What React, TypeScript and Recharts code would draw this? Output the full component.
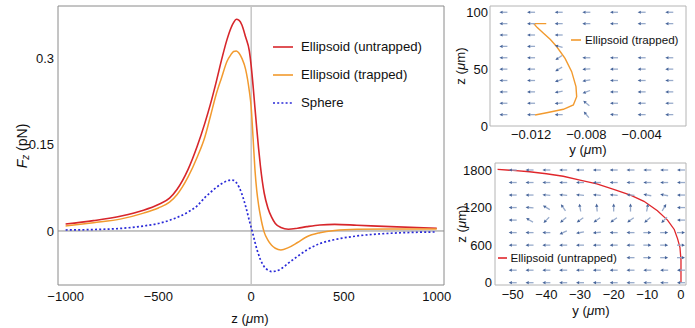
import React from 'react'
import {
  LineChart,
  ComposedChart,
  Line,
  Scatter,
  XAxis,
  YAxis,
  ReferenceLine,
  ReferenceArea,
  Legend,
} from 'recharts'

// main panel: F_z against z
const zPositions = [-1000, -850, -700, -580, -500, -440, -400, -340, -290, -250, -220, -190, -160, -130, -110, -95, -80, -65, -50, -30, -10, 0, 10, 20, 30, 40, 50, 70, 90, 110, 130, 160, 200, 250, 300, 370, 450, 570, 750, 1000]
const untrapped = [0.012, 0.018, 0.026, 0.036, 0.046, 0.057, 0.072, 0.107, 0.148, 0.187, 0.22, 0.257, 0.297, 0.333, 0.352, 0.362, 0.368, 0.366, 0.358, 0.337, 0.313, 0.287, 0.253, 0.215, 0.178, 0.143, 0.112, 0.066, 0.04, 0.024, 0.013, 0.006, 0.003, 0.0048, 0.0075, 0.0105, 0.0115, 0.01, 0.0075, 0.0047]
const trapped = [0.0087, 0.0144, 0.021, 0.031, 0.04, 0.05, 0.063, 0.094, 0.129, 0.163, 0.199, 0.236, 0.266, 0.295, 0.306, 0.312, 0.313, 0.309, 0.3, 0.281, 0.243, 0.215, 0.163, 0.108, 0.07, 0.045, 0.026, -0.002, -0.016, -0.025, -0.03, -0.033, -0.029, -0.02, -0.01, -0.003, 0.001, 0.003, 0.0035, 0.0035]
const sphere = [0.0017, 0.0025, 0.0045, 0.0087, 0.013, 0.0185, 0.0235, 0.033, 0.044, 0.058, 0.067, 0.075, 0.082, 0.087, 0.0885, 0.088, 0.084, 0.076, 0.064, 0.043, 0.018, 0.006, -0.006, -0.019, -0.031, -0.041, -0.05, -0.062, -0.068, -0.0705, -0.07, -0.066, -0.056, -0.044, -0.033, -0.022, -0.015, -0.0087, -0.004, -0.0017]
const mainXTicks = [-1000, -500, 0, 500, 1000]
const mainYTicks = [0, 0.15, 0.3]
const legendOrder = ['Ellipsoid (untrapped)', 'Ellipsoid (trapped)', 'Sphere']

// top right: trapped trajectory + field
const trapY = [-0.0109, -0.0118, -0.01155, -0.0111, -0.0106, -0.01014, -0.00954, -0.00906, -0.00875, -0.0087, -0.00894, -0.00966, -0.01087, -0.01171]
const trapZ = [90, 90, 86.5, 81.5, 76, 69.7, 59.5, 47.8, 34.6, 25.8, 18.5, 14.7, 11.7, 9.7]
const topCols = [-0.014, -0.012, -0.01, -0.008, -0.006, -0.004, -0.002]
const topRows = [100, 90, 80, 70, 60, 50, 40, 30, 20, 10]
const topAngles = [
  [180, 180, 180, 180, 180, 180, 180],
  [180, 180, 180, 180, 180, 180, 180],
  [180, 180, 180, 180, 180, 180, 180],
  [180, 180, 165, 180, 180, 180, 180],
  [180, 180, 215, 180, 180, 180, 180],
  [180, 180, 210, 185, 180, 180, 180],
  [180, 180, 200, 190, 180, 180, 180],
  [180, 180, 190, 200, 180, 180, 180],
  [180, 180, 185, 140, 180, 180, 180],
  [180, 180, 180, 130, 175, 180, 180],
]
const topXTicks = [-0.012, -0.008, -0.004]
const topYTicks = [0, 50, 100]

// bottom right: untrapped trajectory + field
const untrapY = [-54.5, -50, -45, -40, -35, -30, -25, -20, -15, -11, -7, -4, -2, -1, -0.3, 0, 0]
const untrapZ = [1810, 1793, 1772, 1740, 1700, 1640, 1580, 1490, 1400, 1300, 1150, 1000, 850, 700, 560, 360, 0]
const botCols = [-50, -45, -40, -35, -30, -25, -20, -15, -10, -5, 0]
const botRows = [1800, 1600, 1400, 1200, 1000, 800, 600, 400, 200, 0]
const botAngles = [
  [180, 180, 180, 180, 180, 180, 180, 180, 180, 180, 180],
  [180, 180, 180, 180, 180, 180, 180, 180, 180, 180, 180],
  [180, 180, 175, 175, 175, 175, 175, 175, 170, 170, 180],
  [180, 175, 150, 125, 100, 95, 90, 90, 80, 60, 180],
  [180, 150, 225, 220, 215, 215, 215, 215, 220, 225, 180],
  [180, 180, 180, 205, 190, 185, 180, 180, 0, 0, 0],
  [180, 180, 180, 180, 180, 180, 180, 180, 0, 0, 0],
  [180, 180, 180, 180, 180, 180, 180, 180, 0, 0, 0],
  [180, 180, 180, 180, 180, 180, 180, 180, 180, 180, 180],
  [180, 180, 180, 180, 180, 180, 180, 180, 180, 180, 180],
]
const botXTicks = [-50, -40, -30, -20, -10, 0]
const botYTicks = [0, 600, 1200, 1800]

const mainData = zPositions.map((z, i) => ({ z, untrapped: untrapped[i], trapped: trapped[i], sphere: sphere[i] }))
const trapData = trapY.map((y, i) => ({ y, z: trapZ[i] }))
const untrapData = untrapY.map((y, i) => ({ y, z: untrapZ[i] }))
const field = (cols: number[], rows: number[], angles: number[][]) =>
  rows.flatMap((z, r) => cols.map((y, c) => ({ y, z, angle: angles[r][c] })))
const topField = field(topCols, topRows, topAngles)
const botField = field(botCols, botRows, botAngles)

const FONT = '"Liberation Sans", Arial, sans-serif'
const minus = (s: string) => s.replace('-', '\u2212')
const tickStyle = { fill: '#111', fontSize: 13, fontFamily: FONT }

const Arrow = (props: any) => {
  const { cx, cy, payload } = props
  if (cx == null || cy == null) return <g />
  const a = (payload.angle * Math.PI) / 180
  const dx = Math.cos(a)
  const dy = -Math.sin(a)
  const len = 8
  const hx = cx + (dx * len) / 2
  const hy = cy + (dy * len) / 2
  const tx = cx - (dx * len) / 2
  const ty = cy - (dy * len) / 2
  const bx = hx - dx * 3.2
  const by = hy - dy * 3.2
  const nx = -dy * 1.6
  const ny = dx * 1.6
  return (
    <g>
      <line x1={tx} y1={ty} x2={bx} y2={by} stroke="#98abcb" strokeWidth={1.3} />
      <polygon points={`${hx},${hy} ${bx + nx},${by + ny} ${bx - nx},${by - ny}`} fill="#46649a" />
    </g>
  )
}

const LegendRows = ({ payload, fontSize, rowH, lineW, gap }: any) => {
  const items = (payload || [])
    .filter((p: any) => legendOrder.includes(p.value))
    .sort((a: any, b: any) => legendOrder.indexOf(a.value) - legendOrder.indexOf(b.value))
  return (
    <div style={{ background: '#fff', display: 'inline-block', paddingRight: 2, verticalAlign: 'top' }}>
      {items.map((p: any) => (
        <div key={p.value} style={{ display: 'flex', alignItems: 'center', height: rowH }}>
          <svg width={lineW} height={6} style={{ display: 'block' }}>
            <line x1={0} y1={3} x2={lineW} y2={3} stroke={p.color} strokeWidth={1.6}
              strokeDasharray={p.payload && p.payload.strokeDasharray} />
          </svg>
          <span style={{ marginLeft: gap, fontSize, fontFamily: FONT, color: '#111', whiteSpace: 'nowrap', lineHeight: 1 }}>
            {p.value}
          </span>
        </div>
      ))}
    </div>
  )
}

const MainChart = () => (
  <LineChart width={460} height={328} data={mainData} margin={{ top: 6, right: 16, bottom: 0, left: 0 }}>
    <XAxis dataKey="z" type="number" domain={[-1041, 1039]} allowDataOverflow ticks={mainXTicks} interval={0}
      axisLine={false} tickLine={false} tickSize={0} tickMargin={7} height={43} tick={tickStyle}
      tickFormatter={(v: number) => minus(String(v))}
      label={{
        content: () => (
          <text x={250} y={318} textAnchor="middle" dominantBaseline="central" fontSize={13.2} fontFamily={FONT} fill="#111">
            z (<tspan fontStyle="italic">μ</tspan>m)
          </text>
        ),
      }} />
    <YAxis type="number" domain={[-0.0939, 0.391]} allowDataOverflow ticks={mainYTicks} interval={0} width={58}
      axisLine={false} tickLine={false} tickSize={0} tickMargin={4} tick={tickStyle}
      tickFormatter={(v: number) => String(v)}
      label={{
        content: () => (
          <text x={22} y={146} transform="rotate(-90 22 146)" textAnchor="middle" dominantBaseline="central"
            fontSize={14} fontFamily={FONT} fill="#111">
            <tspan fontStyle="italic">F</tspan>
            <tspan fontStyle="italic" fontSize={10} dy={3}>z</tspan>
            <tspan dy={-3}> (pN)</tspan>
          </text>
        ),
      }} />
    <ReferenceArea x1={-1041} x2={1039} y1={-0.0939} y2={0.391} fill="none" stroke="#8a8a8a" strokeWidth={1} />
    <ReferenceLine x={0} stroke="#c6c6c6" strokeWidth={1.5} />
    <ReferenceLine y={0} stroke="#8c8c8c" strokeWidth={1} />
    <Legend layout="vertical" align="center" verticalAlign="middle"
      wrapperStyle={{ left: 273, top: 33, width: 180 }}
      content={(p: any) => <LegendRows payload={p.payload} fontSize={13.2} rowH={28} lineW={20} gap={8} />} />
    <Line type="monotone" dataKey="untrapped" name="Ellipsoid (untrapped)" stroke="#d7262b" strokeWidth={1.6} dot={false} isAnimationActive={false} />
    <Line type="monotone" dataKey="trapped" name="Ellipsoid (trapped)" stroke="#f29a2e" strokeWidth={1.5} dot={false} isAnimationActive={false} />
    <Line type="monotone" dataKey="sphere" name="Sphere" stroke="#2a2ad8" strokeWidth={1.7} strokeDasharray="2 2.2" dot={false} isAnimationActive={false} />
  </LineChart>
)

const zLabel = (x: number, y: number) => (
  <text x={x} y={y} transform={`rotate(-90 ${x} ${y})`} textAnchor="middle" dominantBaseline="central" fontSize={13.2} fontFamily={FONT} fill="#111">
    z (<tspan fontStyle="italic">μ</tspan>m)
  </text>
)
const yLabel = (x: number, y: number) => (
  <text x={x} y={y} textAnchor="middle" dominantBaseline="central" fontSize={13.2} fontFamily={FONT} fill="#111">
    y (<tspan fontStyle="italic">μ</tspan>m)
  </text>
)

const TopRight = () => (
  <ComposedChart width={255} height={160} margin={{ top: 6, right: 9, bottom: 0, left: 0 }}>
    <XAxis dataKey="y" type="number" domain={[-0.01497, -0.00079]} allowDataOverflow ticks={topXTicks} interval={0}
      axisLine={false} tickLine={false} tickSize={0} tickMargin={4} height={34} tick={tickStyle}
      tickFormatter={(v: number) => minus(v.toFixed(3))}
      label={{ content: () => yLabel(148, 149) }} />
    <YAxis dataKey="z" type="number" domain={[0, 105.5]} allowDataOverflow ticks={topYTicks} interval={0} width={50}
      axisLine={false} tickLine={false} tickSize={0} tickMargin={2} tick={tickStyle}
      label={{ content: () => zLabel(20, 66) }} />
    <ReferenceArea x1={-0.01497} x2={-0.00079} y1={0} y2={105.5} fill="none" stroke="#b4b4b4" strokeWidth={1} />
    <Legend layout="vertical" align="center" verticalAlign="middle"
      wrapperStyle={{ left: 131, top: 31, width: 124 }}
      content={(p: any) => <LegendRows payload={p.payload} fontSize={11.6} rowH={17} lineW={10} gap={4} />} />
    <Scatter data={topField} shape={Arrow} legendType="none" isAnimationActive={false} />
    <Line data={trapData} dataKey="z" name="Ellipsoid (trapped)" type="linear" stroke="#f29a2e" strokeWidth={1.4} dot={false} isAnimationActive={false} />
  </ComposedChart>
)

const BottomRight = () => (
  <ComposedChart width={255} height={178} margin={{ top: 13, right: 9, bottom: 0, left: 0 }}>
    <XAxis dataKey="y" type="number" domain={[-55.26, 1.49]} allowDataOverflow ticks={botXTicks} interval={0}
      axisLine={false} tickLine={false} tickSize={0} tickMargin={5} height={43} tick={tickStyle}
      tickFormatter={(v: number) => minus(String(v))}
      label={{ content: () => yLabel(151, 160) }} />
    <YAxis dataKey="z" type="number" domain={[-36.7, 1911.8]} allowDataOverflow ticks={botYTicks} interval={0} width={55}
      axisLine={false} tickLine={false} tickSize={0} tickMargin={3} tick={tickStyle}
      label={{ content: () => zLabel(21, 74) }} />
    <ReferenceArea x1={-55.26} x2={1.49} y1={-36.7} y2={1911.8} fill="none" stroke="#b4b4b4" strokeWidth={1} />
    <Legend layout="vertical" align="center" verticalAlign="middle"
      wrapperStyle={{ left: 58, top: 99, width: 140 }}
      content={(p: any) => <LegendRows payload={p.payload} fontSize={11.6} rowH={17} lineW={9} gap={3.5} />} />
    <Scatter data={botField} shape={Arrow} legendType="none" isAnimationActive={false} />
    <Line data={untrapData} dataKey="z" name="Ellipsoid (untrapped)" type="linear" stroke="#e0262b" strokeWidth={1.3} dot={false} isAnimationActive={false} />
  </ComposedChart>
)

export default function App() {
  return (
    <div style={{ position: 'absolute', left: 0, top: 0, width: 695, height: 328, background: '#fff', fontFamily: FONT }}>
      <div style={{ position: 'absolute', left: 0, top: 0 }}>
        <MainChart />
      </div>
      <div style={{ position: 'absolute', left: 440, top: 0 }}>
        <TopRight />
      </div>
      <div style={{ position: 'absolute', left: 440, top: 150 }}>
        <BottomRight />
      </div>
    </div>
  )
}
